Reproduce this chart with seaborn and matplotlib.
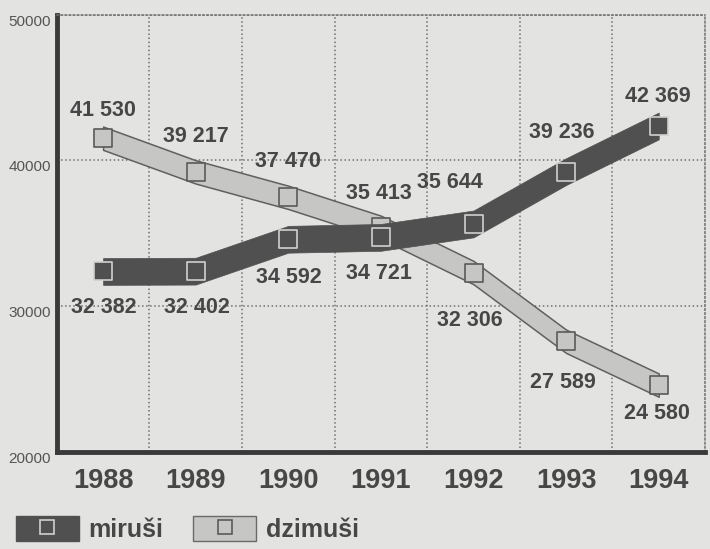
# Births and deaths 1988-1994: two ribbon lines with value labels
import pandas as pd
import seaborn as sns
import matplotlib.pyplot as plt
from matplotlib.patches import Patch
from matplotlib.lines import Line2D
from matplotlib.legend_handler import HandlerTuple

# data
years = ["1988", "1989", "1990", "1991", "1992", "1993", "1994"]
miru = [32382, 32402, 34592, 34721, 35644, 39236, 42369]     # deaths
dzim = [41530, 39217, 37470, 35413, 32306, 27589, 24580]     # births
miru_lbl = ["32 382", "32 402", "34 592", "34 721", "35 644", "39 236", "42 369"]
dzim_lbl = ["41 530", "39 217", "37 470", "35 413", "32 306", "27 589", "24 580"]

df = pd.DataFrame({"year": years, "pos": range(len(years)),
                   "miruši": miru, "dzimuši": dzim})

sns.set_theme(style="white")
plt.rcParams["font.family"] = ["Liberation Sans", "DejaVu Sans"]

paper = "#e3e3e1"
dark = "#505050"
light = "#c6c6c4"
ink = "#474747"

fig = plt.figure(figsize=(7.1, 5.49), dpi=100, facecolor=paper)
ax = fig.add_axes([0.080, 0.177, 0.913, 0.796], facecolor=paper)

# light ribbon (births) with a darker outline
ax.fill_between(df["pos"], df["dzimuši"] - 800, df["dzimuši"] + 800,
                facecolor=light, edgecolor="#606060", linewidth=1.1, zorder=3)
sns.scatterplot(data=df, x="pos", y="dzimuši", marker="s", s=150,
                color=light, edgecolor="#5a5a5a", linewidth=1.2, ax=ax, zorder=4)

# dark ribbon (deaths) on top
ax.fill_between(df["pos"], df["miruši"] - 920, df["miruši"] + 920,
                facecolor=dark, edgecolor=dark, linewidth=0.5, zorder=5)
sns.scatterplot(data=df, x="pos", y="miruši", marker="s", s=150,
                color=dark, edgecolor="#d0d0d0", linewidth=1.2, ax=ax, zorder=6)

# value labels (offsets in pixels)
dzim_off = [(0, 28), (0, 35), (0, 36), (-2, 34), (-4, -48), (-3, -41), (-2, -28)]
miru_off = [(1, -36), (1, -36), (1, -38), (-2, -36), (-24, 41), (-4, 39), (-1, 29)]
for i in range(len(years)):
    ax.annotate(dzim_lbl[i], (i, dzim[i]), xytext=dzim_off[i], textcoords="offset pixels",
                ha="center", va="center", fontsize=15.5, fontweight="bold", color=ink, zorder=7)
    ax.annotate(miru_lbl[i], (i, miru[i]), xytext=miru_off[i], textcoords="offset pixels",
                ha="center", va="center", fontsize=15.5, fontweight="bold", color=ink, zorder=7)

# axes, grid
ax.set_xlim(-0.5, 6.5)
ax.set_ylim(20000, 50000)
ax.set_xticks(range(len(years)))
ax.set_xticklabels(years, fontsize=19.5, fontweight="bold", color=ink)
ax.set_yticks([20000, 30000, 40000, 50000])
ax.set_yticklabels(["20000", "30000", "40000", "50000"], fontsize=11, color="#555555")
for lab in ax.get_yticklabels():
    lab.set_va("top")
ax.set_xticks([x + 0.5 for x in range(len(years) - 1)], minor=True)
ax.grid(which="minor", axis="x", color="#707070", linestyle=":", linewidth=1.1)
ax.grid(which="major", axis="y", color="#707070", linestyle=":", linewidth=1.1)
ax.tick_params(axis="x", which="both", length=0, pad=12)
ax.tick_params(axis="y", length=0, pad=4)
ax.set_xlabel("")
ax.set_ylabel("")

for side in ["left", "bottom"]:
    ax.spines[side].set_color("#3a3a3a")
    ax.spines[side].set_linewidth(3.5)
for side in ["top", "right"]:
    ax.spines[side].set_color("#707070")
    ax.spines[side].set_linestyle(":")
    ax.spines[side].set_linewidth(1.1)

# legend with ribbon swatch + square marker
h_miru = (Patch(facecolor=dark, edgecolor=dark),
          Line2D([], [], marker="s", ms=10, mfc=dark, mec="#d0d0d0", mew=1.2, ls="none"))
h_dzim = (Patch(facecolor=light, edgecolor="#6a6a6a"),
          Line2D([], [], marker="s", ms=10, mfc=light, mec="#5a5a5a", mew=1.2, ls="none"))
leg = fig.legend([h_miru, h_dzim], ["miruši", "dzimuši"],
                 handler_map={tuple: HandlerTuple(ndivide=1)},
                 loc="center left", bbox_to_anchor=(-0.009, 0.036), ncol=2, frameon=False,
                 prop={"size": 18, "weight": "bold"}, handlelength=2.5, handleheight=1.12,
                 handletextpad=0.4, columnspacing=1.2)
for t in leg.get_texts():
    t.set_color(ink)

fig.savefig("out.png", dpi=100, facecolor=paper)
